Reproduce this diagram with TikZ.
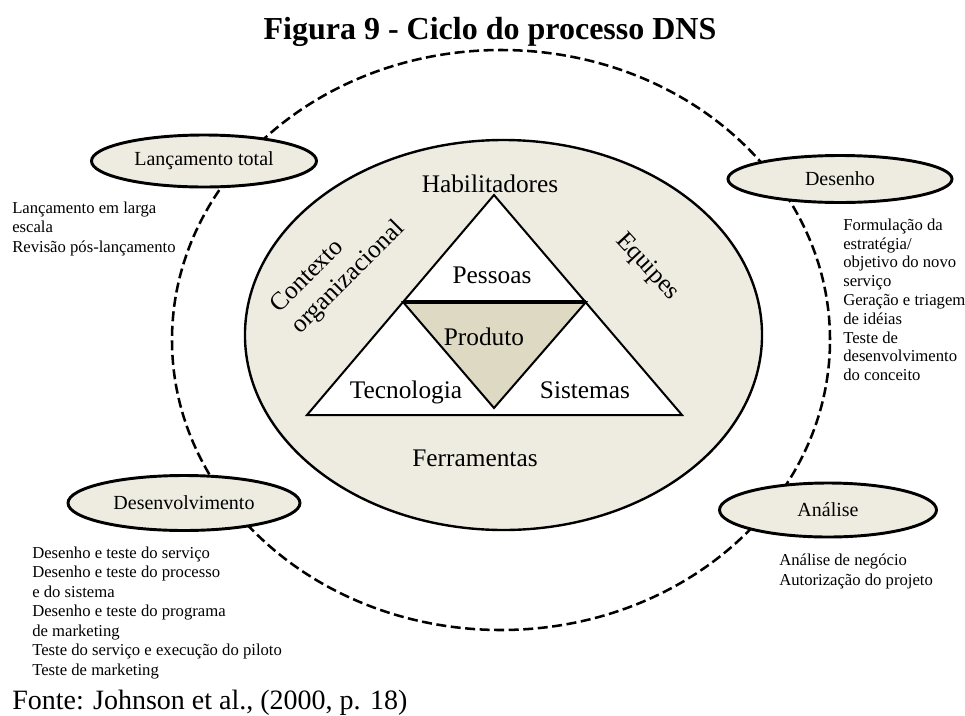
\documentclass[tikz,border=0pt]{standalone}
\usepackage{fontspec}
\setmainfont{Liberation Serif}
\usetikzlibrary{shapes.geometric}
\definecolor{bgbeige}{HTML}{EEECE1}
\definecolor{prodbeige}{HTML}{DDD9C3}

\begin{document}
\begin{tikzpicture}[x=0.75pt,y=-0.75pt,
  phase/.style={ellipse, draw, line width=2.2pt, fill=bgbeige, inner sep=0pt,
                font=\fontsize{15}{18}\selectfont},
  notes/.style={anchor=north west, align=left, inner sep=0pt,
                font=\fontsize{12.5}{14.6}\selectfont},
  core/.style={inner sep=0pt, anchor=base, font=\fontsize{19}{22.8}\selectfont},
  cyclepath/.style={draw, line width=1.9pt, dash pattern=on 7.5pt off 3.4pt},
  edge/.style={draw, line width=1.5pt, line join=miter}
]
\useasboundingbox (0,0) rectangle (965,715);

% title and source
\node[anchor=base, inner sep=0pt, font=\fontsize{24}{28}\selectfont\bfseries]
  (title) at (490,39) {Figura 9 - Ciclo do processo DNS};
\node[anchor=base west, inner sep=0pt, font=\fontsize{21}{25}\selectfont]
  (source) at (12,709) {Fonte: Johnson et al., (2000, p. 18)};

% outer cycle of the process
\coordinate (cyc) at (501,340);
\path[cyclepath] (cyc) ellipse [x radius=246.75pt, y radius=217.5pt];

% enablers ellipse
\coordinate (enc) at (503.5,335);
\draw[line width=1.8pt, fill=bgbeige] (enc) ellipse [x radius=193.9pt, y radius=146.25pt];

% triangle: people / technology / systems, product in the middle
\coordinate (apex) at (494,195);
\coordinate (bl) at (307,415);
\coordinate (br) at (682,415);
\coordinate (ml) at (403,302);
\coordinate (mr) at (586,302);
\coordinate (mv) at (494,408);
\path[edge, fill=white] (apex) -- (br) -- (bl) -- cycle;
\path[edge, fill=prodbeige] (ml) -- (mr) -- (mv) -- cycle;
\draw[line width=2.6pt] (ml) -- (mr);

% phases
\node[phase, minimum width=168.75pt, minimum height=39pt] (launch) at (204,161) {Lançamento total};
\node[phase, minimum width=168pt, minimum height=35.25pt] (design) at (840,179) {Desenho};
\node[phase, minimum width=162.75pt, minimum height=40.5pt] (analysis) at (828,510) {Análise};
\node[phase, minimum width=174pt, minimum height=41.25pt] (develop) at (184,503) {Desenvolvimento};

% phase activities
\node[notes, font=\fontsize{12.5}{14.6}\selectfont] (launchnotes) at (12,201.5)
  {Lançamento em larga\\escala\\Revisão pós-lançamento};
\node[notes, font=\fontsize{12.5}{14.1}\selectfont] (designnotes) at (843,218.5)
  {Formulação da\\estratégia/\\objetivo do novo\\serviço\\Geração e triagem\\de idéias\\Teste de\\desenvolvimento\\do conceito};
\node[notes, font=\fontsize{12.5}{14.6}\selectfont] (devnotes) at (32,546.5)
  {Desenho e teste do serviço\\Desenho e teste do processo\\e do sistema\\Desenho e teste do programa\\de marketing\\Teste do serviço e execução do piloto\\Teste de marketing};
\node[notes, font=\fontsize{12.5}{15}\selectfont] (analysisnotes) at (779,553.5)
  {Análise de negócio\\Autorização do projeto};

% labels inside the enablers ellipse
\node[core] (enablers) at (490,192) {Habilitadores};
\node[core] (people) at (492,283) {Pessoas};
\node[core] (product) at (484,345) {Produto};
\node[core] (tech) at (406,398) {Tecnologia};
\node[core] (systems) at (585,398) {Sistemas};
\node[core] (tools) at (475,466) {Ferramentas};
\node[core, anchor=base west, rotate=45] (context1) at (279,314) {Contexto};
\node[core, anchor=base west, rotate=45] (context2) at (300,335) {organizacional};
\node[core, anchor=center, rotate=-47] (teams) at (647,267) {Equipes};
\end{tikzpicture}
\end{document}
